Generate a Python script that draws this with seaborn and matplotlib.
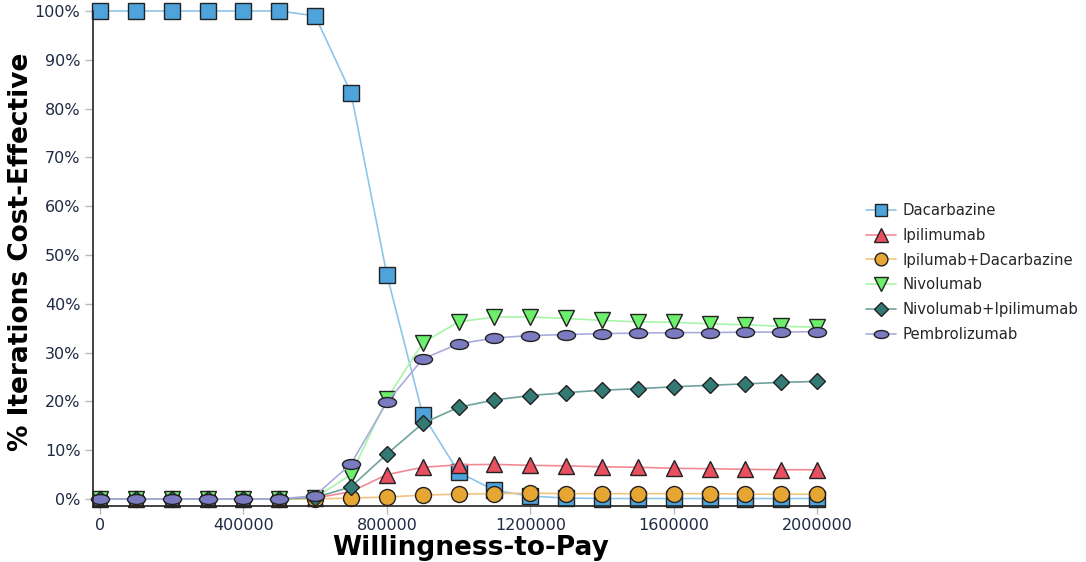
import numpy as np
import pandas as pd
import matplotlib
matplotlib.use("Agg")
import matplotlib.pyplot as plt
import seaborn as sns
from matplotlib.path import Path
from matplotlib.ticker import FuncFormatter, MultipleLocator
from matplotlib.lines import Line2D

# ---------------- data ----------------
wtp = [0, 100000, 200000, 300000, 400000, 500000, 600000, 700000, 800000, 900000,
       1000000, 1100000, 1200000, 1300000, 1400000, 1500000, 1600000, 1700000,
       1800000, 1900000, 2000000]

dacarbazine = [100, 100, 100, 100, 100, 100, 99.0, 83.2, 46.0, 17.3, 5.5, 1.8, 0.6,
               0.2, 0.1, 0.1, 0.1, 0.1, 0.1, 0.1, 0.1]
ipilimumab = [0, 0, 0, 0, 0, 0, 0.2, 1.5, 5.0, 6.5, 7.0, 7.1, 6.9, 6.8, 6.6, 6.5,
              6.3, 6.2, 6.1, 6.0, 6.0]
ipi_dac = [0, 0, 0, 0, 0, 0, 0.0, 0.2, 0.4, 0.8, 1.0, 1.1, 1.2, 1.1, 1.1, 1.1, 1.1,
           1.1, 1.0, 1.0, 1.0]
nivolumab = [0, 0, 0, 0, 0, 0, 0.3, 5.0, 20.5, 32.0, 36.3, 37.3, 37.3, 37.0, 36.6,
             36.3, 36.2, 35.9, 35.7, 35.4, 35.2]
nivo_ipi = [0, 0, 0, 0, 0, 0, 0.3, 2.5, 9.2, 15.5, 18.8, 20.3, 21.2, 21.8, 22.3,
            22.6, 23.0, 23.3, 23.6, 23.9, 24.1]
pembrolizumab = [0, 0, 0, 0, 0, 0, 0.7, 7.2, 19.8, 28.7, 31.8, 33.0, 33.5, 33.7,
                 33.9, 34.0, 34.1, 34.1, 34.2, 34.2, 34.3]

series_names = ["Dacarbazine", "Ipilimumab", "Ipilumab+Dacarbazine", "Nivolumab",
                "Nivolumab+Ipilimumab", "Pembrolizumab"]
series_values = [dacarbazine, ipilimumab, ipi_dac, nivolumab, nivo_ipi, pembrolizumab]

# ---------------- styles ----------------
ellipse = Path.unit_circle().transformed(matplotlib.transforms.Affine2D().scale(1.0, 0.55))
styles = {
    "Dacarbazine": dict(line="#8DC6EA", face="#4DA3DA", marker="s", ms=11),
    "Ipilimumab": dict(line="#F28A96", face="#E8505F", marker="^", ms=12),
    "Ipilumab+Dacarbazine": dict(line="#F2C47E", face="#E6A633", marker="o", ms=11.5),
    "Nivolumab": dict(line="#A8F5A8", face="#6CF06C", marker="v", ms=12),
    "Nivolumab+Ipilimumab": dict(line="#6FA39E", face="#347A74", marker="D", ms=8.5),
    "Pembrolizumab": dict(line="#ABABDD", face="#7B7BC2", marker=ellipse, ms=13),
}

rows = []
for name, vals in zip(series_names, series_values):
    for x, y in zip(wtp, vals):
        rows.append({"WTP": x, "pct": y, "Strategy": name})
df = pd.DataFrame(rows)

sns.set_theme(style="white")
plt.rcParams["font.family"] = ["DejaVu Sans"]

fig = plt.figure(figsize=(10.86, 5.62), dpi=100)
ax = fig.add_axes([93 / 1086, 1 - 506 / 562, (825 - 93) / 1086, (506 - 11) / 562])

handles = []
for name in series_names:
    st = styles[name]
    sub = df[df["Strategy"] == name]
    sns.lineplot(data=sub, x="WTP", y="pct", ax=ax, color=st["line"], linewidth=1.2,
                 marker=st["marker"], markersize=st["ms"], markerfacecolor=st["face"],
                 markeredgecolor="#222222", markeredgewidth=1.0, legend=False,
                 clip_on=False)
    handles.append(Line2D([0], [0], color=st["line"], linewidth=1.2, marker=st["marker"],
                          markersize=st["ms"] * 0.8, markerfacecolor=st["face"],
                          markeredgecolor="#222222", markeredgewidth=1.0, label=name))

ax.set_xlim(-19526, 2022000)
ax.set_ylim(-1.43, 100)
ax.xaxis.set_major_locator(MultipleLocator(400000))
ax.yaxis.set_major_locator(MultipleLocator(10))
ax.yaxis.set_major_formatter(FuncFormatter(lambda v, p: f"{int(round(v))}%"))
ax.xaxis.set_major_formatter(FuncFormatter(lambda v, p: f"{int(round(v))}"))

for s in ["top", "right"]:
    ax.spines[s].set_visible(False)
for s in ["left", "bottom"]:
    ax.spines[s].set_color("#222222")
    ax.spines[s].set_linewidth(1.2)

ax.tick_params(axis="both", which="major", direction="out", length=6, width=1,
               color="#BBBBBB", labelsize=11.5, labelcolor="#1F2A44", pad=3,
               bottom=True, left=True)

ax.set_xlabel("Willingness-to-Pay", fontsize=19, fontweight="bold", color="#000000")
ax.set_ylabel("% Iterations Cost-Effective", fontsize=19, fontweight="bold",
              color="#000000")
ax.xaxis.set_label_coords((471 - 93) / 732, (506 - 535) / 495)
ax.yaxis.set_label_coords((34 - 93) / 732, (506 - 252) / 495)

fig.legend(handles=handles, loc="upper left", bbox_to_anchor=(860 / 1086, 1 - 197 / 562),
           frameon=False, fontsize=10.7, handlelength=2.0, handletextpad=0.45,
           labelspacing=0.66, borderaxespad=0)

fig.savefig("out.png", dpi=100)
